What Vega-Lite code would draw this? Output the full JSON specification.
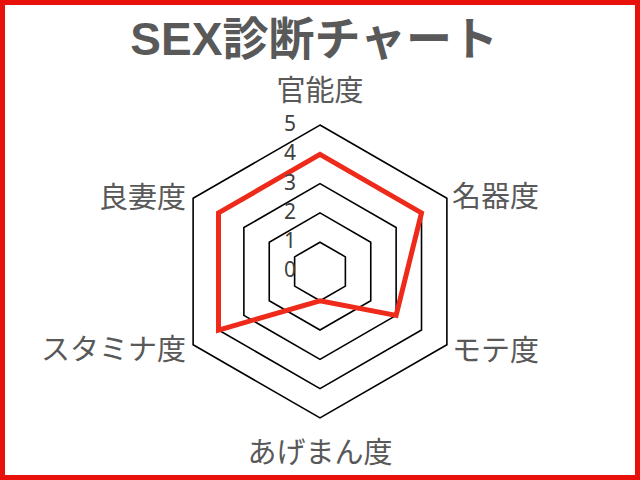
{
  "$schema": "https://vega.github.io/schema/vega-lite/v6.json",
  "width": 640,
  "height": 480,
  "autosize": {"type": "fit", "contains": "padding"},
  "padding": 0,
  "background": "white",
  "datasets": {
    "scores": [
      {"axis": "官能度", "i": 0, "score": 4},
      {"axis": "名器度", "i": 1, "score": 4},
      {"axis": "モテ度", "i": 2, "score": 3},
      {"axis": "あげまん度", "i": 3, "score": 1},
      {"axis": "スタミナ度", "i": 4, "score": 4},
      {"axis": "良妻度", "i": 5, "score": 4}
    ],
    "grid": [
      {"level": 1, "i": 0}, {"level": 1, "i": 1}, {"level": 1, "i": 2},
      {"level": 1, "i": 3}, {"level": 1, "i": 4}, {"level": 1, "i": 5},
      {"level": 2, "i": 0}, {"level": 2, "i": 1}, {"level": 2, "i": 2},
      {"level": 2, "i": 3}, {"level": 2, "i": 4}, {"level": 2, "i": 5},
      {"level": 3, "i": 0}, {"level": 3, "i": 1}, {"level": 3, "i": 2},
      {"level": 3, "i": 3}, {"level": 3, "i": 4}, {"level": 3, "i": 5},
      {"level": 4, "i": 0}, {"level": 4, "i": 1}, {"level": 4, "i": 2},
      {"level": 4, "i": 3}, {"level": 4, "i": 4}, {"level": 4, "i": 5},
      {"level": 5, "i": 0}, {"level": 5, "i": 1}, {"level": 5, "i": 2},
      {"level": 5, "i": 3}, {"level": 5, "i": 4}, {"level": 5, "i": 5}
    ],
    "ticks": [
      {"level": 0}, {"level": 1}, {"level": 2},
      {"level": 3}, {"level": 4}, {"level": 5}
    ],
    "heading": [{"label": "SEX診断チャート"}]
  },
  "encoding": {
    "x": {
      "field": "px", "type": "quantitative",
      "scale": {"domain": [-10.92, 10.92], "nice": false, "zero": false},
      "axis": null
    },
    "y": {
      "field": "py", "type": "quantitative",
      "scale": {"domain": [-7.12, 9.27], "nice": false, "zero": false},
      "axis": null
    }
  },
  "layer": [
    {
      "data": {"name": "grid"},
      "transform": [
        {"calculate": "datum.level * sin(datum.i * PI / 3)", "as": "px"},
        {"calculate": "datum.level * cos(datum.i * PI / 3)", "as": "py"}
      ],
      "mark": {"type": "line", "interpolate": "linear-closed", "color": "black", "strokeWidth": 1.6},
      "encoding": {
        "detail": {"field": "level"},
        "order": {"field": "i"}
      }
    },
    {
      "data": {"name": "scores"},
      "transform": [
        {"calculate": "datum.score * sin(datum.i * PI / 3)", "as": "px"},
        {"calculate": "datum.score * cos(datum.i * PI / 3)", "as": "py"}
      ],
      "mark": {"type": "line", "interpolate": "linear-closed", "color": "#ee2a1a", "strokeWidth": 5, "strokeJoin": "miter"},
      "encoding": {
        "order": {"field": "i"}
      }
    },
    {
      "data": {"name": "ticks"},
      "transform": [
        {"calculate": "0", "as": "px"},
        {"calculate": "datum.level", "as": "py"}
      ],
      "mark": {"type": "text", "align": "right", "baseline": "middle", "dx": -24, "font": "Noto Sans", "fontSize": 21, "color": "#404040"},
      "encoding": {
        "text": {"field": "level"}
      }
    },
    {
      "data": {"name": "heading"},
      "transform": [
        {"calculate": "-0.2", "as": "px"},
        {"calculate": "7.87", "as": "py"}
      ],
      "mark": {"type": "text", "align": "center", "baseline": "middle", "font": "Liberation Sans, Noto Sans CJK JP", "fontSize": 46, "fontWeight": "bold", "color": "#595959"},
      "encoding": {
        "text": {"field": "label"}
      }
    },
    {
      "data": {"name": "scores"},
      "transform": [
        {"calculate": "5 * sin(datum.i * PI / 3)", "as": "px"},
        {"calculate": "5 * cos(datum.i * PI / 3)", "as": "py"}
      ],
      "encoding": {"text": {"field": "axis"}},
      "layer": [
        {
          "transform": [{"filter": "datum.i == 0"}],
          "mark": {"type": "text", "align": "center", "baseline": "middle", "dy": -33, "font": "Noto Sans CJK JP", "fontSize": 29, "color": "#595959"}
        },
        {
          "transform": [{"filter": "datum.i == 3"}],
          "mark": {"type": "text", "align": "center", "baseline": "middle", "dy": 36, "font": "Noto Sans CJK JP", "fontSize": 29, "color": "#595959"}
        },
        {
          "transform": [{"filter": "datum.i == 1"}],
          "mark": {"type": "text", "align": "left", "baseline": "middle", "dx": 5, "dy": 0, "font": "Noto Sans CJK JP", "fontSize": 29, "color": "#595959"}
        },
        {
          "transform": [{"filter": "datum.i == 2"}],
          "mark": {"type": "text", "align": "left", "baseline": "middle", "dx": 5, "dy": 7, "font": "Noto Sans CJK JP", "fontSize": 29, "color": "#595959"}
        },
        {
          "transform": [{"filter": "datum.i == 4"}],
          "mark": {"type": "text", "align": "right", "baseline": "middle", "dx": -7, "dy": 6, "font": "Noto Sans CJK JP", "fontSize": 29, "color": "#595959"}
        },
        {
          "transform": [{"filter": "datum.i == 5"}],
          "mark": {"type": "text", "align": "right", "baseline": "middle", "dx": -7, "dy": 1, "font": "Noto Sans CJK JP", "fontSize": 29, "color": "#595959"}
        }
      ]
    }
  ],
  "config": {
    "view": {"stroke": "#e8100a", "strokeWidth": 10}
  }
}
